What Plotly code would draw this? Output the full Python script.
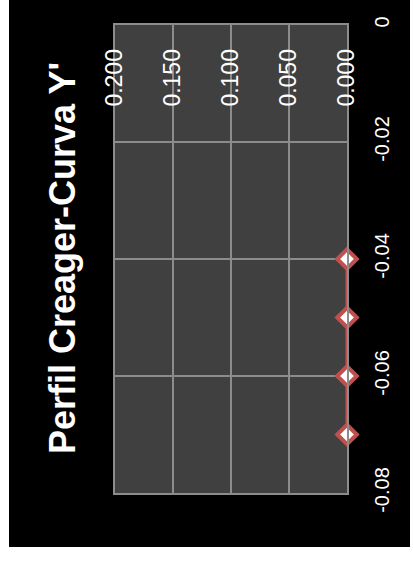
import plotly.graph_objects as go

# Data (chart is shown rotated 90 degrees)
x_vals = [0.0, 0.0, 0.0, 0.0]
y_vals = [-0.04, -0.05, -0.06, -0.07]

x_tickvals = [0.0, 0.05, 0.10, 0.15, 0.20]
x_ticktext = ["0.000", "0.050", "0.100", "0.150", "0.200"]
y_tickvals = [0, -0.02, -0.04, -0.06, -0.08]
y_ticktext = ["0", "-0.02", "-0.04", "-0.06", "-0.08"]

title_text = "Perfil Creager-Curva Y'"

W, H = 413, 563
L, R, T, B = 115, 66, 25, 70
pw, ph = W - L - R, H - T - B

fig = go.Figure()
fig.add_trace(go.Scatter(
    x=x_vals, y=y_vals, mode="lines+markers",
    line=dict(color="#c0504d", width=3),
    marker=dict(symbol="diamond", size=15, color="white",
                line=dict(color="#c0504d", width=4)),
    showlegend=False, cliponaxis=False,
))

font = "Liberation Sans, Arial, sans-serif"

fig.update_layout(
    width=W, height=H,
    margin=dict(l=L, r=R, t=T, b=B),
    paper_bgcolor="black",
    plot_bgcolor="#404040",
    xaxis=dict(
        range=[0.2, 0.0], side="top",
        tickvals=x_tickvals, ticktext=x_ticktext,
        tickangle=-90, ticklabelposition="inside",
        ticklabeloverflow="allow",
        ticklabelstandoff=13,
        tickfont=dict(family=font, size=23, color="white"),
        showgrid=True, gridcolor="#8c8c8c", gridwidth=2,
        zeroline=False, showline=True, linecolor="#8c8c8c", linewidth=2,
        mirror=True, ticks="",
    ),
    yaxis=dict(
        range=[-0.08, 0.0], side="right",
        tickvals=y_tickvals, ticktext=y_ticktext,
        tickangle=-90, ticklabelstandoff=16,
        ticklabeloverflow="allow",
        tickfont=dict(family=font, size=20, color="white"),
        showgrid=True, gridcolor="#8c8c8c", gridwidth=2,
        zeroline=False, showline=True, linecolor="#8c8c8c", linewidth=2,
        mirror=True, ticks="",
    ),
    annotations=[dict(
        text="<b>" + title_text + "</b>", textangle=-90,
        xref="paper", yref="paper",
        x=(62 - L) / pw, y=(H - B - 258) / ph,
        xanchor="center", yanchor="middle", showarrow=False,
        font=dict(family=font, size=36, color="white"),
    )],
    shapes=[
        dict(type="rect", xref="paper", yref="paper", layer="above",
             x0=(0 - L) / pw, x1=(9 - L) / pw, y0=(H - B - H) / ph, y1=(H - B) / ph,
             fillcolor="white", line=dict(width=0)),
        dict(type="rect", xref="paper", yref="paper", layer="above",
             x0=(410 - L) / pw, x1=(W - L) / pw, y0=(H - B - H) / ph, y1=(H - B) / ph,
             fillcolor="white", line=dict(width=0)),
        dict(type="rect", xref="paper", yref="paper", layer="above",
             x0=(0 - L) / pw, x1=(W - L) / pw, y0=(H - B - H) / ph, y1=(H - B - 547) / ph,
             fillcolor="white", line=dict(width=0)),
    ],
)

fig.write_html("out.html")
